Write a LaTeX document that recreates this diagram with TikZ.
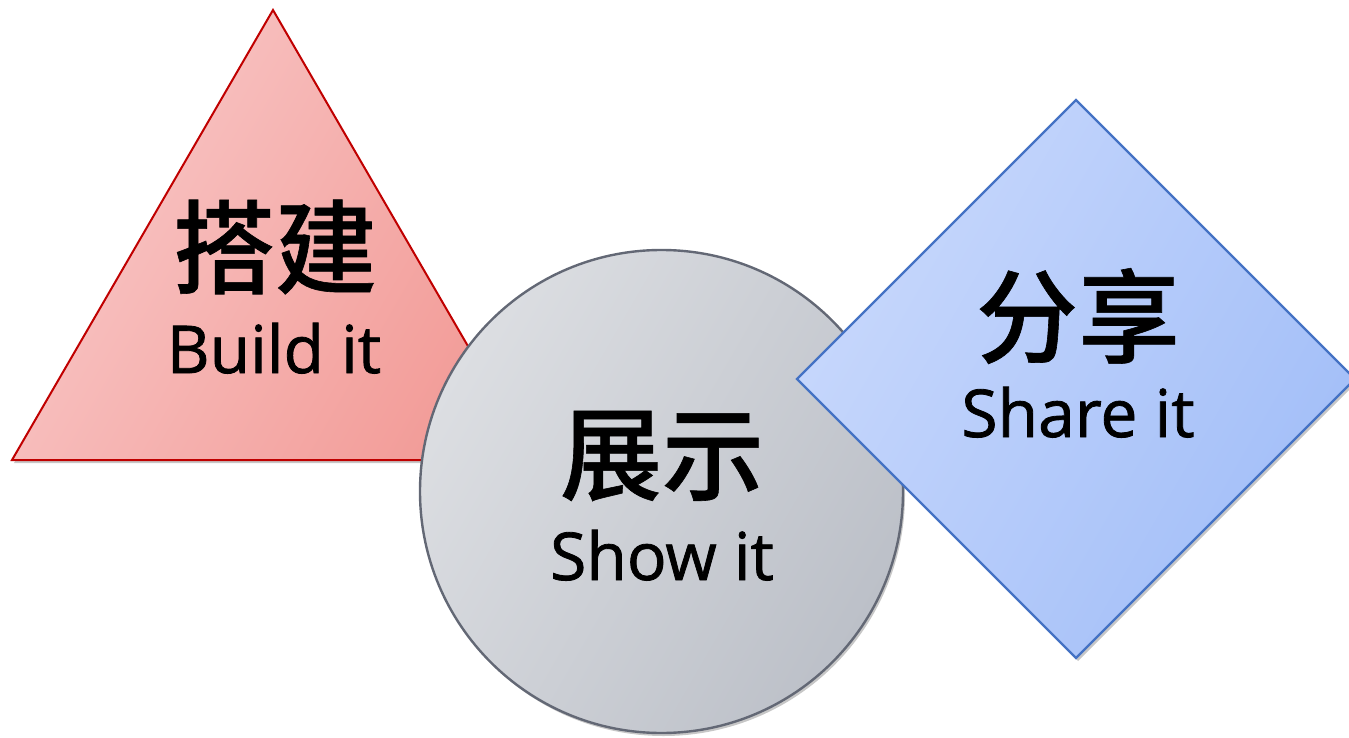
\documentclass[tikz,border=0pt]{standalone}
\usepackage{fontspec}
\setmainfont{Open Sans}
\newfontfamily\enfont{Open Sans}[FakeBold=1.2]
\newfontfamily\cjk{Noto Sans CJK SC Medium}[FakeBold=0.6]
\usetikzlibrary{shadows}
\definecolor{triA}{HTML}{F9C8C8}
\definecolor{triB}{HTML}{F29C98}
\definecolor{triLine}{HTML}{C00000}
\definecolor{cirA}{HTML}{DCDEE2}
\definecolor{cirB}{HTML}{BCC0C8}
\definecolor{cirLine}{HTML}{636875}
\definecolor{diaA}{HTML}{C8D8FC}
\definecolor{diaB}{HTML}{A2BEF8}
\definecolor{diaLine}{HTML}{4472C4}
\tikzset{
  shapeshadow/.style={drop shadow={shadow xshift=2pt,shadow yshift=-3pt,fill=black,opacity=0.22}},
  zh/.style={font=\cjk\fontsize{102}{102}\selectfont, inner sep=0pt},
  en/.style={font=\enfont\fontsize{66}{66}\selectfont, inner sep=0pt, anchor=base},
}
\begin{document}
\begin{tikzpicture}[x=1pt,y=-1pt]
\useasboundingbox (0,0) rectangle (1349,738);
% triangle
\path[shapeshadow, left color=triA, right color=triB, shading angle=60, draw=triLine, line width=2pt]
  (273,10) -- (534,460) -- (12,460) -- cycle;
% circle
\path[shapeshadow, draw=cirLine, line width=2.4pt, left color=cirA, right color=cirB, shading angle=60]
  (661.5,491.5) circle (241.5);
% diamond
\path[shapeshadow, draw=diaLine, line width=2.4pt, left color=diaA, right color=diaB, shading angle=60]
  (1076,100) -- (1355,379) -- (1076,658) -- (797,379) -- cycle;
% texts
\node[zh] (bzh) at (275,247) {搭建};
\node[en] (ben) at (274,373) {Build it};
\node[zh] (szh) at (662,456) {展示};
\node[en] (sen) at (662,580) {Show it};
\node[zh] (hzh) at (1078,316) {分享};
\node[en] (hen) at (1078,437) {Share it};
\end{tikzpicture}
\end{document}
